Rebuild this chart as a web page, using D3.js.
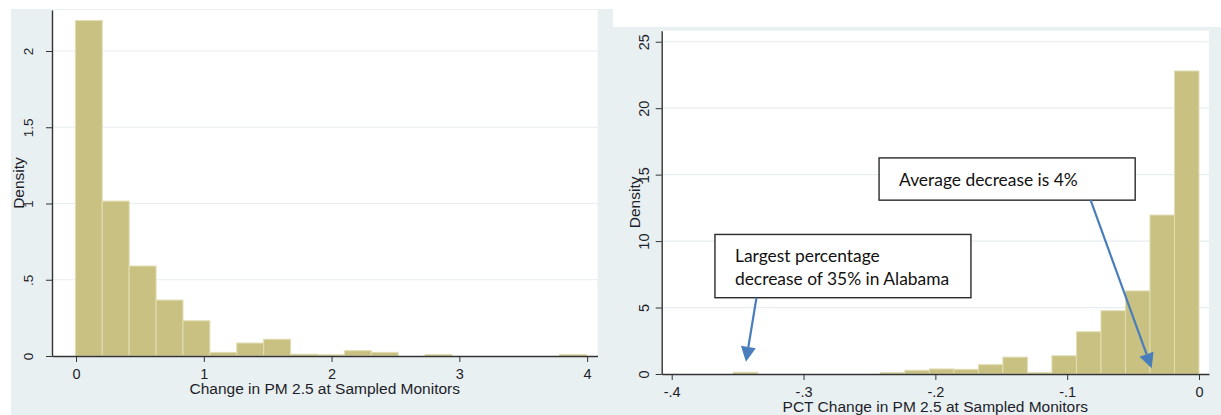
<!DOCTYPE html>
<html lang="en">
<head>
<meta charset="UTF-8">
<title>PM 2.5 change histograms</title>
<script src="https://d3js.org/d3.v7.min.js"></script>
<style>
    body { margin: 0; background: #fff; }
    .axis path, .axis line { stroke: #333; }
    .axis text { font-family: "Liberation Sans", Arial, sans-serif; fill: #1e1e2a; }
    .title { font-family: "Liberation Sans", Arial, sans-serif; font-size: 15.5px; fill: #1e1e2a; }
    .note text { font-family: Lato, "Open Sans", sans-serif; font-size: 17.4px; fill: #111; }
</style>
</head>
<body>
<div id="chart"></div>
<script>
// left panel: change in PM 2.5 (19 bins)
const leftStart = -0.005;
const leftWidth = 0.2105;
const leftDensity = [2.2, 1.016, 0.59, 0.367, 0.231, 0.024, 0.085, 0.11, 0.012, 0.008, 0.035, 0.024, 0, 0.01, 0, 0, 0, 0, 0.01];
const leftXTicks = [0, 1, 2, 3, 4];
const leftXLabels = ["0", "1", "2", "3", "4"];
const leftYTicks = [0, 0.5, 1, 1.5, 2];
const leftYLabels = ["0", ".5", "1", "1.5", "2"];

// right panel: percent change (19 bins)
const rightStart = -0.3533;
const rightWidth = 0.018595;
const rightDensity = [0.13, 0, 0, 0, 0, 0, 0.1, 0.28, 0.38, 0.35, 0.7, 1.27, 0.1, 1.37, 3.18, 4.76, 6.25, 11.96, 22.8];
const rightXTicks = [-0.4, -0.3, -0.2, -0.1, 0];
const rightXLabels = ["-.4", "-.3", "-.2", "-.1", "0"];
const rightYTicks = [0, 5, 10, 15, 20, 25];
const rightYLabels = ["0", "5", "10", "15", "20", "25"];

// callouts on the right panel (data units)
const notes = [
    { lines: ["Average decrease is 4%"], x0: -0.2427, x1: -0.0484, y0: 16.26, y1: 13.08, from: [-0.0822, 13.08], to: [-0.0359, 0.43] },
    { lines: ["Largest percentage", "decrease of 35% in Alabama"], x0: -0.3672, x1: -0.173, y0: 10.5, y1: 5.74, from: [-0.3357, 5.74], to: [-0.3437, 0.92] }
];

const W = 1221, H = 415;
const bg = "#e9f0f2", barFill = "#c9c181", barEdge = "#e2ddb4", grid = "#e6eef1";

const svg = d3.select("#chart").append("svg")
    .attr("width", W).attr("height", H);

// graph regions
svg.append("rect").attr("x", 11).attr("y", 9).attr("width", 602).attr("height", H - 9).attr("fill", bg);
svg.append("rect").attr("x", 597).attr("y", 27).attr("width", W - 597).attr("height", H - 27).attr("fill", bg);

function panel(cfg) {
    const x = d3.scaleLinear().domain(cfg.xDomain).range([cfg.left, cfg.right]);
    const y = d3.scaleLinear().domain(cfg.yDomain).range([cfg.bottom, cfg.top]);
    const g = svg.append("g");

    g.append("rect")
        .attr("x", cfg.left).attr("y", cfg.top)
        .attr("width", cfg.right - cfg.left).attr("height", cfg.bottom - cfg.top)
        .attr("fill", "#fff");

    g.append("g").selectAll("line")
        .data(cfg.yTicks.filter(d => d > 0))
        .join("line")
        .attr("x1", cfg.left).attr("x2", cfg.right)
        .attr("y1", d => y(d)).attr("y2", d => y(d))
        .attr("stroke", grid).attr("stroke-width", 1.2);

    g.append("g").selectAll("rect")
        .data(cfg.density)
        .join("rect")
        .attr("x", (d, i) => x(cfg.start + i * cfg.width))
        .attr("width", (d, i) => x(cfg.start + (i + 1) * cfg.width) - x(cfg.start + i * cfg.width))
        .attr("y", d => y(d))
        .attr("height", d => y(0) - y(d))
        .attr("fill", barFill)
        .attr("stroke", barEdge)
        .attr("stroke-width", d => d > 0 ? 1 : 0);

    const xAxis = g.append("g").attr("class", "axis")
        .attr("transform", `translate(0,${cfg.bottom})`)
        .call(d3.axisBottom(x).tickValues(cfg.xTicks)
            .tickFormat((d, i) => cfg.xLabels[i]).tickSize(6).tickSizeOuter(0));
    xAxis.select(".domain").attr("stroke-width", 1.4);
    xAxis.selectAll("text")
        .attr("y", cfg.xLabelOff).attr("dy", 0)
        .style("font-size", "14.5px");

    const yAxis = g.append("g").attr("class", "axis")
        .attr("transform", `translate(${cfg.left},0)`)
        .call(d3.axisLeft(y).tickValues(cfg.yTicks)
            .tickFormat((d, i) => cfg.yLabels[i]).tickSize(6).tickSizeOuter(0));
    yAxis.select(".domain").attr("stroke-width", 1.4);
    yAxis.selectAll("text")
        .attr("x", 0).attr("dy", 0)
        .attr("text-anchor", "middle")
        .attr("transform", `translate(${-cfg.yLabelOff},0) rotate(-90)`)
        .style("font-size", cfg.yFont);

    g.append("text").attr("class", "title")
        .attr("x", (cfg.left + cfg.right) / 2)
        .attr("y", cfg.bottom + 38)
        .attr("text-anchor", "middle")
        .text(cfg.xTitle);

    g.append("text").attr("class", "title")
        .attr("text-anchor", "middle")
        .attr("transform", `translate(${cfg.left - cfg.densOff},${(cfg.top + cfg.bottom) / 2}) rotate(-90)`)
        .text("Density");

    return { x, y, g };
}

panel({
    left: 52, right: 597.5, top: 10, bottom: 356,
    xDomain: [-0.188, 4.081], yDomain: [0, 2.269],
    start: leftStart, width: leftWidth, density: leftDensity,
    xTicks: leftXTicks, xLabels: leftXLabels, yTicks: leftYTicks, yLabels: leftYLabels,
    xLabelOff: 23, yLabelOff: 19.5, yFont: "13.5px", densOff: 28,
    xTitle: "Change in PM 2.5 at Sampled Monitors"
});

const rp = panel({
    left: 661.7, right: 1209, top: 30.7, bottom: 374,
    xDomain: [-0.4076, 0.0076], yDomain: [0, 25.83],
    start: rightStart, width: rightWidth, density: rightDensity,
    xTicks: rightXTicks, xLabels: rightXLabels, yTicks: rightYTicks, yLabels: rightYLabels,
    xLabelOff: 23, yLabelOff: 13, yFont: "14.5px", densOff: 21.5,
    xTitle: "PCT Change in PM 2.5 at Sampled Monitors"
});

// callouts
const arrowColor = "#4a7ebb";
notes.forEach(n => {
    const g = rp.g.append("g").attr("class", "note");
    const bx = rp.x(n.x0), by = rp.y(n.y0);
    g.append("rect")
        .attr("x", bx).attr("y", by)
        .attr("width", rp.x(n.x1) - bx).attr("height", rp.y(n.y1) - by)
        .attr("fill", "#fff").attr("stroke", "#2a2a2a").attr("stroke-width", 1.4);
    const t = g.append("text").attr("x", bx + 20).attr("y", by + 28);
    n.lines.forEach((s, i) => {
        t.append("tspan").attr("x", bx + 20).attr("dy", i ? 22.7 : 0).text(s);
    });

    const x1 = rp.x(n.from[0]), y1 = rp.y(n.from[1]);
    const x2 = rp.x(n.to[0]), y2 = rp.y(n.to[1]);
    const len = Math.hypot(x2 - x1, y2 - y1);
    const ux = (x2 - x1) / len, uy = (y2 - y1) / len;
    const head = 15, half = 7.5;
    const bxh = x2 - ux * head, byh = y2 - uy * head;
    g.append("line")
        .attr("x1", x1).attr("y1", y1).attr("x2", bxh).attr("y2", byh)
        .attr("stroke", arrowColor).attr("stroke-width", 2.2);
    g.append("path")
        .attr("d", `M${x2},${y2}L${bxh - uy * half},${byh + ux * half}L${bxh + uy * half},${byh - ux * half}Z`)
        .attr("fill", arrowColor);
});
</script>
</body>
</html>
